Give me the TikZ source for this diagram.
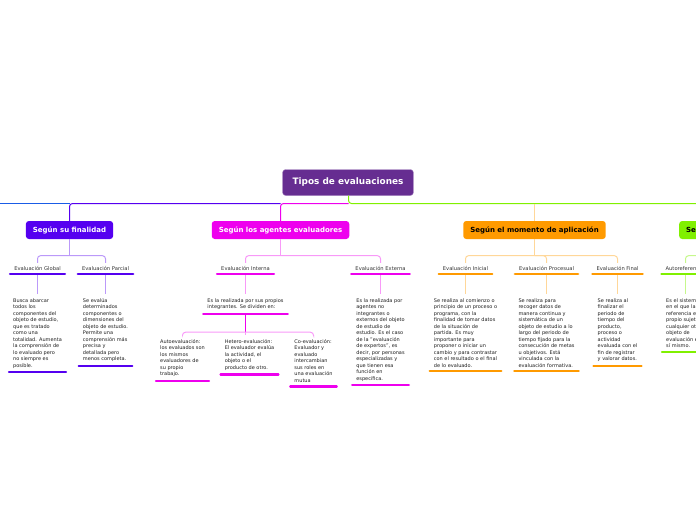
\documentclass[tikz,border=0pt]{standalone}
\usepackage{fontspec}
\setmainfont{DejaVu Sans}
\usetikzlibrary{calc}

\definecolor{rootc}{HTML}{662D91}
\definecolor{leftc}{HTML}{1A5CE6}
\definecolor{finc}{HTML}{5500F0}
\definecolor{agenc}{HTML}{EE00EE}
\definecolor{momc}{HTML}{FF9A00}
\definecolor{refc}{HTML}{80F000}
\definecolor{lblc}{HTML}{333333}
\definecolor{txtc}{HTML}{1E1E1E}
\colorlet{finl}{finc!40}
\colorlet{agenl}{agenc!40}
\colorlet{moml}{momc!40}
\colorlet{refl}{refc!45}

\tikzset{
  root/.style={fill=rootc, draw=rootc!55!white, rounded corners=3pt, text=white,
    font=\fontsize{8.9}{10}\selectfont\bfseries, minimum height=26pt, inner xsep=10pt},
  branch/.style={rounded corners=3pt, font=\fontsize{7}{8}\selectfont\bfseries,
    minimum height=18pt, inner xsep=7pt},
  lbl/.style={anchor=base, font=\fontsize{5.2}{6}\selectfont, text=lblc,
    text height=4pt, text depth=1pt, inner xsep=4pt, inner ysep=3pt},
  txt/.style={anchor=north, font=\fontsize{5}{6.5}\selectfont, text=txtc,
    align=left, inner sep=4pt},
  uline/.style={line width=2.4pt, line cap=round},
  link/.style={line width=1pt, rounded corners=3pt}
}

\begin{document}
\begin{tikzpicture}[x=1pt, y=-1pt]
      \useasboundingbox (0,0) rectangle (696,520);
      \clip (0,0) rectangle (696,520);

      \node[root] (tipos) at (348,182.5) {Tipos de evaluaciones};
      \coordinate (top) at (348.5,203.5);
      \coordinate (offleft) at (-30,203.5);

      \node[branch, fill=finc, text=white] (fin) at (69.5,230) {Según su finalidad};
      \node[branch, fill=agenc, text=white] (agen) at (280.5,230) {Según los agentes evaluadores};
      \node[branch, fill=momc, text=black] (mom) at (534.5,230) {Según el momento de aplicación};
      \node[branch, fill=refc, text=black, anchor=west] (ref) at (679,230) {Según el referente};

      \draw[link, leftc] (offleft) -- (fin.north |- top);
      \draw[link, finc] (fin.north) |- (agen.north |- top);
      \draw[link, agenc] (agen.north) |- (top);
      \draw[link, refc] (tipos.south -| top) -- (top) -| (ref.north);
      \draw[link, moml] (mom.north) -- (mom.north |- top);

      \node[lbl] (glob) at (37.5,270) {Evaluación Global};
      \node[lbl] (parc) at (105.5,270) {Evaluación Parcial};
      \node[lbl] (inter) at (245.5,270) {Evaluación Interna};
      \node[lbl] (exter) at (380.5,270) {Evaluación Externa};
      \node[lbl] (ini) at (465.5,270) {Evaluación Inicial};
      \node[lbl] (proc) at (546.5,270) {Evaluación Procesual};
      \node[lbl] (final) at (617.5,270) {Evaluación Final};
      \node[lbl] (autor) at (685.5,270) {Autoreferencial};

      \draw[link, finl] (fin.south) -- ++(0,16.5) coordinate (finfork);
      \draw[link, finl] (glob.north) |- (finfork) -| (parc.north);
      \draw[link, agenl] (agen.south) -- ++(0,16.5) coordinate (agenfork);
      \draw[link, agenl] (inter.north) |- (agenfork) -| (exter.north);
      \draw[link, moml] (mom.south) -- ++(0,16.5) coordinate (momfork);
      \draw[link, moml] (ini.north) |- (momfork) -| (final.north);
      \draw[link, moml] (momfork) -| (proc.north);
      \draw[link, refl] (ref.south) -- ++(0,16.5) coordinate (reffork);
      \draw[link, refl] (autor.north) |- (reffork);

      \node[txt] (globtxt) at (37.5,294) {Busca abarcar\\todos los\\componentes del\\objeto de estudio,\\que es tratado\\como una\\totalidad. Aumenta\\la comprensión de\\lo evaluado pero\\no siempre es\\posible.};
      \node[txt] (parctxt) at (105.5,294) {Se evalúa\\determinados\\componentes o\\dimensiones del\\objeto de estudio.\\Permite una\\comprensión más\\precisa y\\detallada pero\\menos completa.};
      \node[txt] (intertxt) at (245.5,294) {Es la realizada por sus propios\\integrantes. Se dividen en:};
      \node[txt] (extertxt) at (380.5,294) {Es la realizada por\\agentes no\\integrantes o\\externos del objeto\\de estudio de\\estudio. Es el caso\\de la "evaluación\\de expertos", es\\decir, por personas\\especializadas y\\que tienen esa\\función en\\específica.};
      \node[txt] (initxt) at (465.5,294) {Se realiza al comienzo o\\principio de un proceso o\\programa, con la\\finalidad de tomar datos\\de la situación de\\partida. Es muy\\importante para\\proponer o iniciar un\\cambio y para contrastar\\con el resultado o el final\\de lo evaluado.};
      \node[txt] (proctxt) at (546.5,294) {Se realiza para\\recoger datos de\\manera continua y\\sistemática de un\\objeto de estudio a lo\\largo del periodo de\\tiempo fijado para la\\consecución de metas\\u objetivos. Está\\vinculada con la\\evaluación formativa.};
      \node[txt] (finaltxt) at (617.5,294) {Se realiza al\\finalizar el\\periodo de\\tiempo del\\producto,\\proceso o\\actividad\\evaluada con el\\fin de registrar\\y valorar datos.};
      \node[txt] (autortxt) at (685.5,294) {Es el sistema\\en el que la\\referencia es el\\propio sujeto,\\cualquier otro\\objeto de\\evaluación es\\sí mismo.};

      \node[txt] (autotxt) at (182.5,335) {Autoevaluación:\\los evaluados son\\los mismos\\evaluadores de\\su propio\\trabajo.};
      \node[txt] (heterotxt) at (249.5,335) {Hetero-evaluación:\\El evaluador evalúa\\la actividad, el\\objeto o el\\producto de otro.};
      \node[txt] (cotxt) at (313.5,335) {Co-evaluación:\\Evaluador y\\evaluado\\intercambian\\sus roles en\\una evaluación\\mutua};

      \draw[link, finl] (glob.south) -- (globtxt.north);
      \draw[link, finl] (parc.south) -- (parctxt.north);
      \draw[link, agenl] (inter.south) -- (intertxt.north);
      \draw[link, agenl] (exter.south) -- (extertxt.north);
      \draw[link, moml] (ini.south) -- (initxt.north);
      \draw[link, moml] (proc.south) -- (proctxt.north);
      \draw[link, moml] (final.south) -- (finaltxt.north);
      \draw[link, refl] (autor.south) -- (autortxt.north);

      \draw[link, agenc] (intertxt.south) -- ++(0,18.5) coordinate (intfork);
      \draw[link, agenl] (autotxt.north) |- (intfork) -| (cotxt.north);
      \draw[link, agenl] (intfork) -- (intfork |- heterotxt.north);

      \foreach \n/\c in {glob/finc, parc/finc, globtxt/finc, parctxt/finc,
          inter/agenc, exter/agenc, intertxt/agenc, extertxt/agenc,
          autotxt/agenc, heterotxt/agenc, cotxt/agenc,
          ini/momc, proc/momc, final/momc, initxt/momc, proctxt/momc, finaltxt/momc,
          autor/refc, autortxt/refc}
        \draw[uline, \c] (\n.south west) -- (\n.south east);
\end{tikzpicture}
\end{document}
